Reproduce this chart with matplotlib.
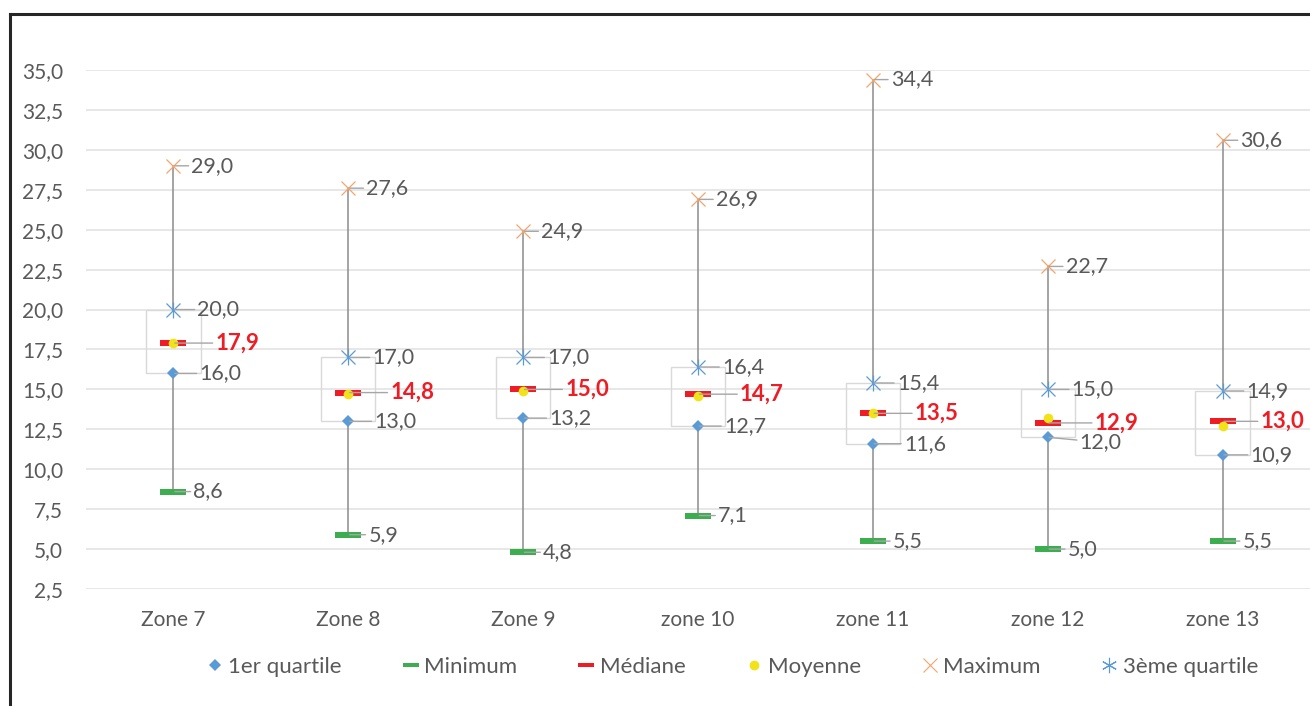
import numpy as np
import matplotlib.pyplot as plt
from matplotlib.path import Path
from matplotlib.lines import Line2D

plt.rcParams['font.family'] = ['Lato', 'DejaVu Sans']

zones = ['Zone 7', 'Zone 8', 'Zone 9', 'zone 10', 'zone 11', 'zone 12', 'zone 13']
q1 = [16.0, 13.0, 13.2, 12.7, 11.6, 12.0, 10.9]
minimum = [8.6, 5.9, 4.8, 7.1, 5.5, 5.0, 5.5]
median = [17.9, 14.8, 15.0, 14.7, 13.5, 12.9, 13.0]
mean = [17.9, 14.7, 14.9, 14.6, 13.5, 13.2, 12.7]
maximum = [29.0, 27.6, 24.9, 26.9, 34.4, 22.7, 30.6]
q3 = [20.0, 17.0, 17.0, 16.4, 15.4, 15.0, 14.9]

x = np.arange(len(zones))

bar = Path([(-1, -0.22), (1, -0.22), (1, 0.22), (-1, 0.22), (-1, -0.22)],
           [Path.MOVETO, Path.LINETO, Path.LINETO, Path.LINETO, Path.CLOSEPOLY])

c_blue = '#5B9BD5'
c_green = '#3DAE4F'
c_red = '#EE1C24'
c_yellow = '#F2E21A'
c_orange = '#F4A46C'
c_lab = '#595959'

fig = plt.figure(figsize=(13.1, 7.06), dpi=100)
ax = fig.add_axes([86 / 1310, 1 - 589 / 706, 1 - 86 / 1310, (589 - 70) / 706])

ax.set_xlim(-0.5, 6.5)
ax.set_ylim(2.5, 35)
ax.set_yticks(np.arange(2.5, 35.01, 2.5))
ax.set_yticklabels([f'{v:.1f}'.replace('.', ',') for v in np.arange(2.5, 35.01, 2.5)])
ax.set_xticks(x)
ax.set_xticklabels(zones)
ax.tick_params(length=0, labelsize=15, labelcolor=c_lab)
ax.tick_params(axis='y', pad=16.5)
ax.tick_params(axis='x', pad=15)
ax.grid(axis='y', color='#E3E3E3', lw=1.2)
ax.set_axisbelow(True)
for s in ax.spines.values():
    s.set_visible(False)

# boxes and whiskers
bw = 0.31
for i in x:
    ax.add_patch(plt.Rectangle((i - bw / 2, q1[i]), bw, q3[i] - q1[i],
                               fill=False, ec='#D9D9D9', lw=1, zorder=2))
    ax.plot([i, i], [minimum[i], q1[i]], color='#8C8C8C', lw=1.1, zorder=2)
    ax.plot([i, i], [q3[i], maximum[i]], color='#8C8C8C', lw=1.1, zorder=2)

ax.plot(x, minimum, ls='none', marker=bar, ms=19, color=c_green, mew=0, zorder=3)
ax.plot(x, median, ls='none', marker=bar, ms=19, color=c_red, mew=0, zorder=3)
ax.plot(x, mean, ls='none', marker='o', ms=7, color=c_yellow, mew=0, zorder=4)
ax.plot(x, q1, ls='none', marker='D', ms=6.5, color=c_blue, mew=0, zorder=4)
ax.plot(x, maximum, ls='none', marker='x', ms=10, color=c_orange, mew=0.9, zorder=4)
ax.plot(x, q3, ls='none', marker='x', ms=10, color=c_blue, mew=0.9, zorder=4)
ax.plot(x, q3, ls='none', marker='|', ms=12, color=c_blue, mew=0.9, zorder=4)

# label nudges (pixels) where Excel moved the labels apart
nudge = {('q1', 4): (5, 0), ('q1', 5): (6, -5), ('q1', 6): (2, 0),
         ('med', 5): (5, 0), ('med', 6): (-4, 0)}


def labels(vals, key, dx, color=c_lab, weight='normal', size=15.5):
    for i, v in zip(x, vals):
        ddx, ddy = nudge.get((key, i), (0, 0))
        ax.annotate(f'{v:.1f}'.replace('.', ','), (i, v), xytext=(dx + ddx, ddy),
                    textcoords='offset pixels', ha='left', va='center',
                    fontsize=size, color=color, fontweight=weight,
                    arrowprops=dict(arrowstyle='-', color='#A6A6A6', lw=1,
                                    shrinkA=0, shrinkB=1), zorder=5)


labels(maximum, 'max', 18)
labels(q3, 'q3', 24)
labels(median, 'med', 42, color=c_red, weight='bold', size=16)
labels(q1, 'q1', 26)
labels(minimum, 'min', 20)

handles = [
    Line2D([], [], ls='none', marker='D', ms=6, color=c_blue, mew=0),
    Line2D([], [], ls='none', marker=bar, ms=12, color=c_green, mew=0),
    Line2D([], [], ls='none', marker=bar, ms=12, color=c_red, mew=0),
    Line2D([], [], ls='none', marker='o', ms=7, color=c_yellow, mew=0),
    Line2D([], [], ls='none', marker='x', ms=10, color=c_orange, mew=0.8),
    Line2D([], [], ls='none', marker=(6, 2, 0), ms=11, color=c_blue, mew=0.8),
]
leg = fig.legend(handles, ['1er quartile', 'Minimum', 'Médiane', 'Moyenne', 'Maximum', '3ème quartile'],
                 loc='center', bbox_to_anchor=(731 / 1310, 1 - 667 / 706), ncol=6, frameon=False,
                 fontsize=16, handletextpad=0.1, columnspacing=2.6, handlelength=1.0)
for t in leg.get_texts():
    t.set_color(c_lab)

# chart border (left and top)
fig.add_artist(Line2D([10 / 1310, 10 / 1310], [0, 1 - 14 / 706], color='#262626', lw=2.2))
fig.add_artist(Line2D([10 / 1310, 1], [1 - 14 / 706, 1 - 14 / 706], color='#262626', lw=2.2))

fig.savefig('out.png', dpi=100)
